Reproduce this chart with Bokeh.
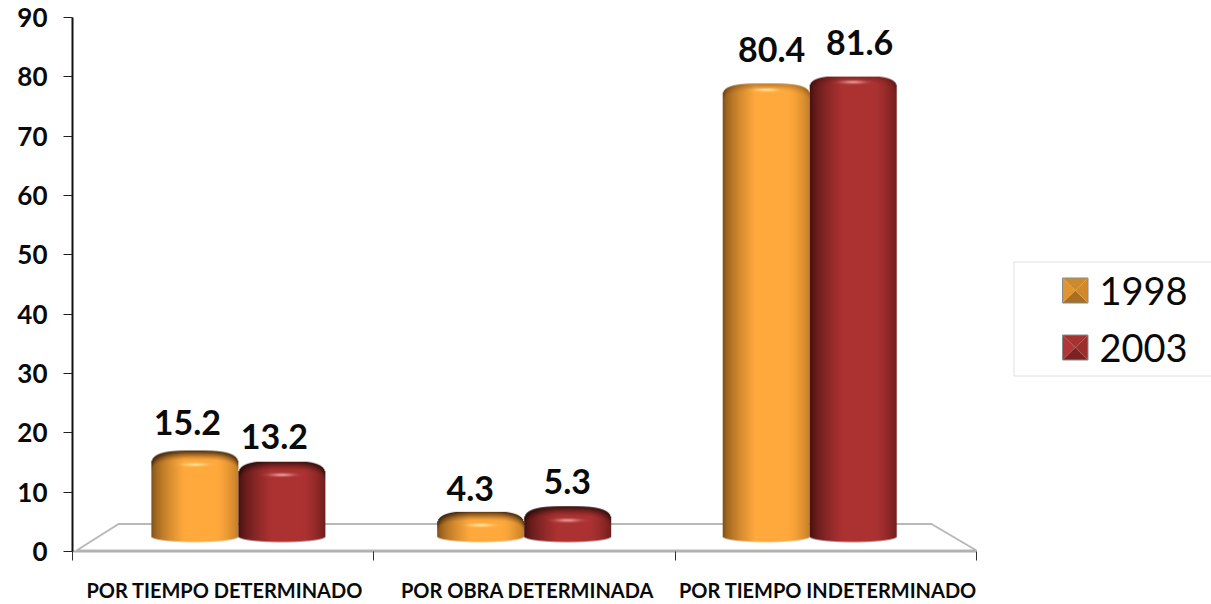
import numpy as np
from bokeh.embed import file_html
from bokeh.resources import INLINE
from bokeh.core.properties import value
from bokeh.models import FixedTicker, Range1d
from bokeh.plotting import figure

# ---- data ----
categories = ["POR TIEMPO DETERMINADO", "POR OBRA DETERMINADA", "POR TIEMPO INDETERMINADO"]
years = ["1998", "2003"]
values_1998 = [15.2, 4.3, 80.4]
values_2003 = [13.2, 5.3, 81.6]
y_ticks = list(range(0, 100, 10))

# ---- layout ----
L, T, W, H = 72, 17, 1211, 604
PX_X = 904 / 3          # pixels per category
PX_Y = 534 / 90         # pixels per value unit
XMAX = (1211 - L) / PX_X
centers = [0.5505, 1.499, 2.4465]   # perspective-shifted group centres
BAR_W = 87 / PX_X
DEPTH_BASE, DEPTH_SCALE = 2.6, 0.949   # 3-D projection of bar heights on the axis
BAR_FOOT = 1.5
COLORS = {"1998": ((255, 169, 60), (120, 74, 20), (196, 126, 40), (255, 238, 170)),
          "2003": ((172, 50, 50), (62, 14, 14), (112, 30, 30), (245, 170, 170))}
SWATCH = {"1998": ["#cc8a2e", "#a86e22", "#e0952f", "#d08a2c"],
          "2003": ["#a83232", "#7c2222", "#b23636", "#9c2e2e"]}
LABEL_OFF = {"1998": [(-51 / PX_X, 28), (-54 / PX_X, 23), (-38 / PX_X, 34)],
             "2003": [(36 / PX_X, 25), (43 / PX_X, 25), (50 / PX_X, 34)]}


def sx(px):
    return (px - L) / PX_X


def sy(py):
    return (551 - py) / PX_Y


def bar_image(val, cols):
    base, dark, right, hi = [np.array(c, float) for c in cols]
    top = DEPTH_BASE + DEPTH_SCALE * val
    w, h = 87, int(round((top - BAR_FOOT) * PX_Y))
    tall = val > 50
    cap = 13.0 if tall else 15.0
    hl = 6.5 if tall else 14.0
    rim = 0.28 if tall else 0.8
    img = np.zeros((h, w, 4), dtype=np.uint8)
    for i in range(w):
        u = (i + 0.5) / w * 2 - 1
        ytop = cap * (1 - (1 - abs(u) ** 3.0) ** (1 / 3.0))
        ybot = h - 5.5 * (1 - np.sqrt(1 - u * u)) - 0.5
        if u < -0.25:
            t = ((u + 1) / 0.75) ** 0.6
            col = dark + (base - dark) * t
        elif u > 0.5:
            t = ((u - 0.5) / 0.5) ** 1.5
            col = base + (right - base) * t
        else:
            col = base
        for j in range(h):
            y = j + 0.5
            a = np.clip(y - ytop + 0.5, 0, 1) * np.clip(ybot - y + 0.5, 0, 1)
            if a <= 0:
                continue
            c = col.copy()
            d = y - ytop
            span = cap * 0.65
            if d < span:
                f = rim * (1 - d / span) ** 1.3
                c = c * (1 - f) + np.array([20, 8, 4]) * f
            g = np.exp(-((y - hl) / 1.6) ** 2) * np.exp(-(u / 0.26) ** 2) * 0.85
            c = c * (1 - g) + hi * g
            img[j, i] = [*np.clip(c, 0, 255).astype(np.uint8), int(a * 255)]
    return np.flipud(img).view(np.uint32).reshape(h, w), top


p = figure(width=W, height=H, output_backend="svg", toolbar_location=None,
           x_range=Range1d(0, XMAX), y_range=Range1d(0, 90),
           min_border_left=L, min_border_top=T,
           min_border_right=0, min_border_bottom=H - 551,
           outline_line_color=None)
p.grid.visible = False

# floor
p.patch([sx(76), sx(118), sx(931), sx(976)], [sy(550), sy(523.5), sy(523.5), sy(550)],
        fill_color="#ffffff", line_color="#b8b8b8", line_width=2)

# bars
for k, (year, vals) in enumerate(zip(years, [values_1998, values_2003])):
    for c, v in zip(centers, vals):
        im, top = bar_image(v, COLORS[year])
        x0 = c + (k - 1) * BAR_W
        p.image_rgba(image=[im], x=[x0], y=[BAR_FOOT], dw=[BAR_W], dh=[top - BAR_FOOT])

# data labels
for k, (year, vals) in enumerate(zip(years, [values_1998, values_2003])):
    xs = [c + LABEL_OFF[year][i][0] for i, c in enumerate(centers)]
    ys = [DEPTH_BASE + DEPTH_SCALE * v for v in vals]
    p.text(x=xs, y=ys, text=[f"{v:.1f}" for v in vals],
           y_offset=[-o[1] for o in LABEL_OFF[year]],
           text_align="center", text_baseline="middle",
           text_font=value("Lato"), text_font_style="bold", text_font_size="34px", text_color="#0a0a0a")

# axes
ax = p.xaxis[0]
ax.ticker = FixedTicker(ticks=[0.505, 1.51, 2.507], minor_ticks=[0, 1, 2, 3])
ax.major_label_overrides = {0.505: categories[0], 1.51: categories[1], 2.507: categories[2]}
ax.major_tick_out = 0
ax.major_tick_in = 0
ax.minor_tick_out = 9
ax.minor_tick_in = 0
ax.minor_tick_line_color = "#303030"
ax.minor_tick_line_width = 1
ax.axis_line_color = "#b0b0b0"
ax.axis_line_width = 2
ax.bounds = (0, 3)
ax.major_label_standoff = 17
ax.major_label_text_font = "Lato"
ax.major_label_text_font_style = "bold"
ax.major_label_text_font_size = "20px"
ax.major_label_text_color = "#0a0a0a"

ay = p.yaxis[0]
ay.ticker = FixedTicker(ticks=y_ticks)
ay.major_tick_out = 9
ay.major_tick_in = 0
ay.minor_tick_out = 0
ay.minor_tick_in = 0
ay.major_tick_line_color = "#202020"
ay.axis_line_color = "#111111"
ay.axis_line_width = 2
ay.major_label_standoff = 16
ay.major_label_text_font = "Lato"
ay.major_label_text_font_style = "bold"
ay.major_label_text_font_size = "26px"
ay.major_label_text_color = "#0a0a0a"

# legend box (right edge runs off the picture)
p.quad(left=[sx(1013.5)], right=[sx(1230)], top=[sy(261.5)], bottom=[sy(375.5)],
       fill_color="#ffffff", line_color="#e0e0e0", line_width=1)
for year, yc in zip(years, [290, 347]):
    x0, x1 = sx(1062), sx(1087.5)
    y0, y1 = sy(yc + 12.5), sy(yc - 12.5)
    xm, ym = (x0 + x1) / 2, (y0 + y1) / 2
    p.patches(xs=[[x0, x1, xm], [x0, x1, xm], [x0, x0, xm], [x1, x1, xm]],
              ys=[[y1, y1, ym], [y0, y0, ym], [y0, y1, ym], [y0, y1, ym]],
              fill_color=SWATCH[year], line_color=None)
    p.quad(left=[x0], right=[x1], top=[y1], bottom=[y0], fill_color=None,
           line_color="#8a8a8a", line_width=1)
    p.text(x=[sx(1099)], y=[sy(yc)], text=[year], text_baseline="middle",
           text_font=value("Lato"), text_font_size="38px", text_color="#0a0a0a")

open("out.html", "w").write(file_html(p, INLINE))
